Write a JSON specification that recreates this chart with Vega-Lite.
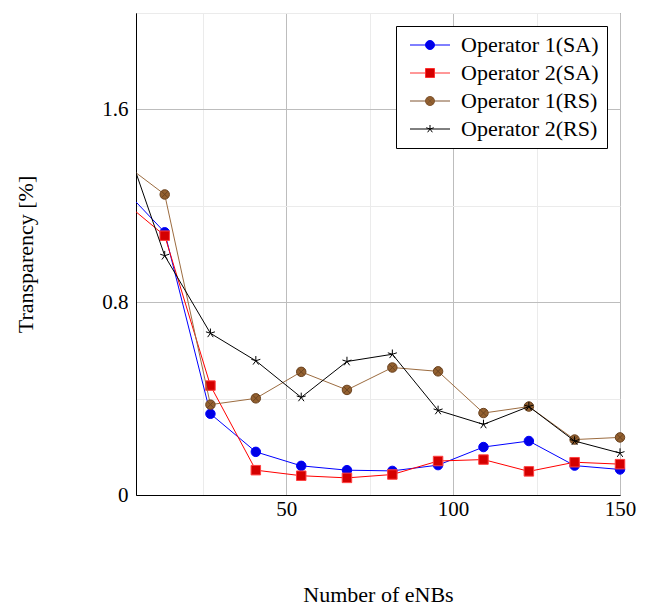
{
  "$schema": "https://vega.github.io/schema/vega-lite/v6.json",
  "autosize": "none",
  "width": 484,
  "height": 482,
  "padding": {"left": 136, "top": 13, "right": 33, "bottom": 111},
  "background": "white",
  "config": {
    "font": "Liberation Serif",
    "view": {"stroke": "black", "strokeWidth": 1}
  },
  "data": {
    "values": [
      {"x": 5, "series": "Operator 1(SA)", "v": 1.216},
      {"x": 13.6, "series": "Operator 1(SA)", "v": 1.09},
      {"x": 27.3, "series": "Operator 1(SA)", "v": 0.337},
      {"x": 40.9, "series": "Operator 1(SA)", "v": 0.179},
      {"x": 54.5, "series": "Operator 1(SA)", "v": 0.121},
      {"x": 68.2, "series": "Operator 1(SA)", "v": 0.103},
      {"x": 81.8, "series": "Operator 1(SA)", "v": 0.1},
      {"x": 95.5, "series": "Operator 1(SA)", "v": 0.124},
      {"x": 109.1, "series": "Operator 1(SA)", "v": 0.199},
      {"x": 122.7, "series": "Operator 1(SA)", "v": 0.224},
      {"x": 136.4, "series": "Operator 1(SA)", "v": 0.122},
      {"x": 150, "series": "Operator 1(SA)", "v": 0.106},
      {"x": 5, "series": "Operator 2(SA)", "v": 1.175},
      {"x": 13.6, "series": "Operator 2(SA)", "v": 1.076},
      {"x": 27.3, "series": "Operator 2(SA)", "v": 0.454},
      {"x": 40.9, "series": "Operator 2(SA)", "v": 0.103},
      {"x": 54.5, "series": "Operator 2(SA)", "v": 0.08},
      {"x": 68.2, "series": "Operator 2(SA)", "v": 0.071},
      {"x": 81.8, "series": "Operator 2(SA)", "v": 0.085},
      {"x": 95.5, "series": "Operator 2(SA)", "v": 0.141},
      {"x": 109.1, "series": "Operator 2(SA)", "v": 0.147},
      {"x": 122.7, "series": "Operator 2(SA)", "v": 0.098},
      {"x": 136.4, "series": "Operator 2(SA)", "v": 0.136},
      {"x": 150, "series": "Operator 2(SA)", "v": 0.128},
      {"x": 5, "series": "Operator 1(RS)", "v": 1.337},
      {"x": 13.6, "series": "Operator 1(RS)", "v": 1.247},
      {"x": 27.3, "series": "Operator 1(RS)", "v": 0.375},
      {"x": 40.9, "series": "Operator 1(RS)", "v": 0.401},
      {"x": 54.5, "series": "Operator 1(RS)", "v": 0.511},
      {"x": 68.2, "series": "Operator 1(RS)", "v": 0.436},
      {"x": 81.8, "series": "Operator 1(RS)", "v": 0.529},
      {"x": 95.5, "series": "Operator 1(RS)", "v": 0.513},
      {"x": 109.1, "series": "Operator 1(RS)", "v": 0.34},
      {"x": 122.7, "series": "Operator 1(RS)", "v": 0.367},
      {"x": 136.4, "series": "Operator 1(RS)", "v": 0.23},
      {"x": 150, "series": "Operator 1(RS)", "v": 0.239},
      {"x": 5, "series": "Operator 2(RS)", "v": 1.337},
      {"x": 13.6, "series": "Operator 2(RS)", "v": 0.993},
      {"x": 27.3, "series": "Operator 2(RS)", "v": 0.671},
      {"x": 40.9, "series": "Operator 2(RS)", "v": 0.557},
      {"x": 54.5, "series": "Operator 2(RS)", "v": 0.405},
      {"x": 68.2, "series": "Operator 2(RS)", "v": 0.554},
      {"x": 81.8, "series": "Operator 2(RS)", "v": 0.584},
      {"x": 95.5, "series": "Operator 2(RS)", "v": 0.351},
      {"x": 109.1, "series": "Operator 2(RS)", "v": 0.293},
      {"x": 122.7, "series": "Operator 2(RS)", "v": 0.367},
      {"x": 136.4, "series": "Operator 2(RS)", "v": 0.224},
      {"x": 150, "series": "Operator 2(RS)", "v": 0.174}
    ]
  },
  "encoding": {
    "x": {
      "field": "x", "type": "quantitative",
      "scale": {"domain": [5, 150], "nice": false, "zero": false},
      "axis": {
        "title": "Number of eNBs",
        "values": [25, 50, 75, 100, 125, 150],
        "labelExpr": "datum.value % 50 == 0 ? datum.label : ''",
        "labelFlush": false,
        "labelOverlap": false,
        "grid": true,
        "gridColor": {"condition": {"test": "datum.value % 50 == 0", "value": "#bdbdbd"}, "value": "#ebebeb"},
        "gridWidth": 1,
        "ticks": false,
        "domainColor": "black",
        "labelFontSize": 21,
        "labelColor": "black",
        "labelPadding": 3,
        "labelFont": "Liberation Serif",
        "titleFont": "Liberation Serif",
        "titleFontSize": 22,
        "titleFontWeight": "normal",
        "titleColor": "black",
        "titlePadding": 65
      }
    },
    "y": {
      "field": "v", "type": "quantitative",
      "scale": {"domain": [0, 2], "nice": false},
      "axis": {
        "title": "Transparency [%]",
        "values": [0, 0.4, 0.8, 1.2, 1.6, 2],
        "labelExpr": "datum.value == 0 ? '0' : datum.value == 0.8 ? '0.8' : datum.value == 1.6 ? '1.6' : ''",
        "labelFlush": false,
        "labelOverlap": false,
        "grid": true,
        "gridColor": {"condition": {"test": "datum.value == 0.8 || datum.value == 1.6", "value": "#bdbdbd"}, "value": "#ebebeb"},
        "gridWidth": 1,
        "ticks": false,
        "domainColor": "black",
        "labelFontSize": 21,
        "labelColor": "black",
        "labelPadding": 8,
        "labelFont": "Liberation Serif",
        "titleFont": "Liberation Serif",
        "titleFontSize": 22,
        "titleFontWeight": "normal",
        "titleColor": "black",
        "titlePadding": 64
      }
    }
  },
  "layer": [
    {
      "transform": [{"filter": "datum.series === 'Operator 1(SA)'"}],
      "mark": {"type": "line", "strokeWidth": 1, "clip": true, "color": "#0000ff"},
      "encoding": {}
    },
    {
      "transform": [{"filter": "datum.x > 6 && datum.series === 'Operator 1(SA)'"}],
      "mark": {"type": "point", "filled": true, "shape": "circle", "fill": "#0000e6", "stroke": "#0000ff", "strokeWidth": 1, "opacity": 1, "size": 90}
    },
    {
      "transform": [{"filter": "datum.series === 'Operator 2(SA)'"}],
      "mark": {"type": "line", "strokeWidth": 1, "clip": true, "color": "#ff0000"},
      "encoding": {}
    },
    {
      "transform": [{"filter": "datum.x > 6 && datum.series === 'Operator 2(SA)'"}],
      "mark": {"type": "point", "filled": true, "shape": "square", "fill": "#d40000", "stroke": "#ff4040", "strokeWidth": 1, "opacity": 1, "size": 90}
    },
    {
      "transform": [{"filter": "datum.series === 'Operator 1(RS)'"}],
      "mark": {"type": "line", "strokeWidth": 1, "clip": true, "color": "#9c6c40"},
      "encoding": {}
    },
    {
      "transform": [{"filter": "datum.x > 6 && datum.series === 'Operator 1(RS)'"}],
      "mark": {"type": "point", "filled": true, "shape": "M1,0A1,1 0 1,1 -1,0A1,1 0 1,1 1,0ZM-0.707,-0.707L0.707,0.707M-0.707,0.707L0.707,-0.707", "fill": "#93602f", "stroke": "#6b4422", "strokeWidth": 1, "opacity": 1, "size": 90}
    },
    {
      "transform": [{"filter": "datum.series === 'Operator 2(RS)'"}],
      "mark": {"type": "line", "strokeWidth": 1, "clip": true, "color": "#000000"},
      "encoding": {}
    },
    {
      "transform": [{"filter": "datum.x > 6 && datum.series === 'Operator 2(RS)'"}],
      "mark": {"type": "point", "filled": true, "shape": "M0,0L0,-1M0,0L0.951,-0.309M0,0L0.588,0.809M0,0L-0.588,0.809M0,0L-0.951,-0.309", "fill": "#000000", "stroke": "#000000", "strokeWidth": 1, "opacity": 1, "size": 90}
    },
    {
      "transform": [{"filter": "datum.x > 1000"}],
      "mark": {"type": "point", "filled": true, "strokeWidth": 1, "opacity": 1, "size": 100},
      "encoding": {
        "fill": {
          "field": "series", "type": "nominal",
          "scale": {"domain": ["Operator 1(SA)", "Operator 2(SA)", "Operator 1(RS)", "Operator 2(RS)"], "range": ["#0000e6", "#d40000", "#93602f", "#000000"]},
          "legend": {
            "title": null,
            "orient": "none",
            "legendX": 260,
            "legendY": 13,
            "strokeColor": "black",
            "fillColor": "white",
            "padding": 8,
            "rowPadding": 6,
            "labelFont": "Liberation Serif",
            "labelFontSize": 22,
            "labelColor": "black",
            "labelOffset": 35,
            "symbolSize": 100,
            "symbolStrokeWidth": 1
          }
        },
        "stroke": {
          "field": "series", "type": "nominal",
          "scale": {"domain": ["Operator 1(SA)", "Operator 2(SA)", "Operator 1(RS)", "Operator 2(RS)"], "range": ["#0000ff", "#ff3030", "#805530", "#000000"]}
        },
        "shape": {
          "field": "series", "type": "nominal",
          "scale": {"domain": ["Operator 1(SA)", "Operator 2(SA)", "Operator 1(RS)", "Operator 2(RS)"], "range": [
            "M-1,0H2.1M3.9,0H7M3.9,0A0.9,0.9 0 1,1 2.1,0A0.9,0.9 0 1,1 3.9,0Z",
            "M-1,0H2.1M3.9,0H7M2.1,-0.9H3.9V0.9H2.1Z",
            "M-1,0H2.1M3.9,0H7M3.9,0A0.9,0.9 0 1,1 2.1,0A0.9,0.9 0 1,1 3.9,0ZM2.36,-0.64L3.64,0.64M2.36,0.64L3.64,-0.64",
            "M-1,0H7M3,0L3,-0.8M3,0L3.76,-0.25M3,0L3.47,0.65M3,0L2.53,0.65M3,0L2.24,-0.25"
          ]}
        }
      }
    }
  ]
}
